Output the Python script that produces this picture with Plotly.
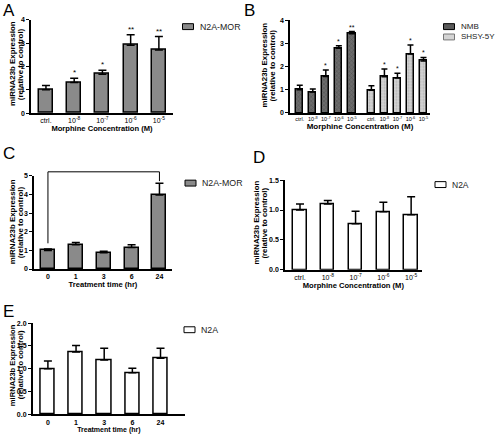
import plotly.graph_objects as go

F = "Liberation Sans, Arial, sans-serif"

# ---------------- data ----------------
conc_labels = ["ctrl.", "10<sup>-8</sup>", "10<sup>-7</sup>", "10<sup>-6</sup>", "10<sup>-5</sup>"]
time_labels = ["0", "1", "3", "6", "24"]

A_vals = [1.0, 1.31, 1.67, 2.91, 2.71]
A_err = [0.19, 0.19, 0.17, 0.45, 0.57]
A_sig = ["", "*", "*", "**", "**"]

B_nmb_vals = [1.0, 0.9, 1.58, 2.8, 3.42]
B_nmb_err = [0.2, 0.14, 0.28, 0.1, 0.1]
B_nmb_sig = ["", "", "*", "*", "**"]
B_shsy_vals = [0.98, 1.57, 1.51, 2.55, 2.25]
B_shsy_err = [0.2, 0.33, 0.21, 0.39, 0.15]
B_shsy_sig = ["", "*", "*", "*", "*"]

C_vals = [1.0, 1.3, 0.88, 1.16, 3.98]
C_err = [0.07, 0.13, 0.07, 0.14, 0.62]
C_bracket = {"from": 0, "to": 4, "height": 5.22, "left_foot": 1.38, "right_foot": 4.72, "label": "**"}

D_vals = [1.0, 1.1, 0.77, 0.97, 0.92]
D_err = [0.1, 0.06, 0.21, 0.16, 0.3]

E_vals = [1.0, 1.37, 1.19, 0.91, 1.23]
E_err = [0.17, 0.14, 0.26, 0.1, 0.22]

Y_TITLE_LINES = ["miRNA23b Expression", "(relative to control)"]

W, H = 496, 440


def px_x(p):
    return p / W


def px_y(p):
    return 1 - p / H


fig = go.Figure()


def add_bars(xs, vals, err, name, axis_n, fill, width, capw=4, pattern=None, sig=None, sigsize=8):
    xa = "x" if axis_n == 1 else f"x{axis_n}"
    ya = "y" if axis_n == 1 else f"y{axis_n}"
    marker = dict(color=fill, line=dict(color="black", width=1.5))
    if pattern:
        marker["pattern"] = pattern
    fig.add_trace(go.Bar(
        x=xs, y=vals, name=name, width=width, xaxis=xa, yaxis=ya, marker=marker,
        showlegend=False,
        error_y=dict(type="data", array=err, arrayminus=[0] * len(err), symmetric=False,
                     color="black", thickness=1.5, width=capw),
    ))
    if sig:
        for x, v, e, s in zip(xs, vals, err, sig):
            if s:
                fig.add_annotation(x=x, y=v + e, xref=xa, yref=ya, text=s, showarrow=False,
                                   yanchor="bottom", yshift=-1,
                                   font=dict(size=sigsize, family=F, color="black"))


idx = list(range(len(conc_labels)))
tidx = list(range(len(time_labels)))
B_gap = 1.5
idx_shsy = [i + len(idx) - 1 + B_gap for i in idx]

GREY = "#8a8a8a"
NMB_PAT = dict(shape="x", fgcolor="#3c3c3c", bgcolor="#6c6c6c", size=3, solidity=0.35)
SHSY_PAT = dict(shape=".", fgcolor="#9c9c9c", bgcolor="#d2d2d2", size=3, solidity=0.35)

add_bars(idx, A_vals, A_err, "N2A-MOR", 1, GREY, 0.5, sig=A_sig)
add_bars(idx, B_nmb_vals, B_nmb_err, "NMB", 2, "#6c6c6c", 0.56, capw=3, pattern=NMB_PAT,
         sig=B_nmb_sig, sigsize=7)
add_bars(idx_shsy, B_shsy_vals, B_shsy_err, "SHSY-5Y", 2, "#d2d2d2", 0.56, capw=3, pattern=SHSY_PAT,
         sig=B_shsy_sig, sigsize=7)
add_bars(tidx, C_vals, C_err, "N2A-MOR", 3, GREY, 0.5)
add_bars(idx, D_vals, D_err, "N2A", 4, "white", 0.48)
add_bars(tidx, E_vals, E_err, "N2A", 5, "white", 0.5)

# bracket in C (y in domain units so it may rise above the axis top)
C_YMAX = 5
for x0, x1, y0, y1 in [
    (C_bracket["from"], C_bracket["to"], C_bracket["height"], C_bracket["height"]),
    (C_bracket["from"], C_bracket["from"], C_bracket["left_foot"], C_bracket["height"]),
    (C_bracket["to"], C_bracket["to"], C_bracket["right_foot"], C_bracket["height"]),
]:
    fig.add_shape(type="line", xref="x3", yref="y3 domain", x0=x0, x1=x1,
                  y0=y0 / C_YMAX, y1=y1 / C_YMAX, line=dict(color="black", width=1))
fig.add_annotation(x=(C_bracket["from"] + C_bracket["to"]) / 2, y=C_bracket["height"], xref="x3", yref="y3",
                   text=C_bracket["label"], showarrow=False, yanchor="bottom", yshift=1,
                   font=dict(size=8, family=F, color="black"))


def yaxis(dom_y, rng, dtick, anchor, fmt="", tsize=7):
    return dict(domain=dom_y, range=rng, anchor=anchor, showline=True, linecolor="black", linewidth=1.5,
                ticks="outside", ticklen=3, tickwidth=1.2, tickcolor="black", showgrid=False, zeroline=False,
                dtick=dtick, tick0=0, tickformat=fmt,
                tickfont=dict(size=tsize, family=F, color="black", weight="bold"))


def xaxis(dom, rng, vals, text, anchor, title, tsize=7, tweight="normal", tsz=7.6):
    return dict(domain=dom, range=rng, anchor=anchor, showline=True, linecolor="black", linewidth=1.5,
                ticks="", showgrid=False, zeroline=False, tickvals=vals, ticktext=text,
                tickfont=dict(size=tsize, family=F, color="black", weight=tweight),
                title=dict(text=f"<b>{title}</b>", font=dict(size=tsz, family=F, color="black"), standoff=2))


fig.update_layout(
    xaxis=xaxis([px_x(31), px_x(173)], [-0.53, 4.5], idx, conc_labels, "y", "Morphine Concentration (M)"),
    yaxis=yaxis([px_y(111), px_y(16)], [0, 4], 1, "x"),
    xaxis2=xaxis([px_x(290), px_x(430)], [-0.75, 10], idx + idx_shsy, conc_labels + conc_labels, "y2",
                 "Morphine Concentration (M)", tsize=5.5, tsz=8),
    yaxis2=yaxis([px_y(110.7), px_y(16.7)], [0, 4], 1, "x2"),
    xaxis3=xaxis([px_x(34), px_x(172)], [-0.5, 4.45], tidx, time_labels, "y3", "Treatment time (hr)",
                 tweight="bold"),
    yaxis3=yaxis([px_y(269.3), px_y(174.7)], [0, C_YMAX], 1, "x3"),
    xaxis4=xaxis([px_x(285), px_x(421.7)], [-0.54, 4.38], idx, conc_labels, "y4", "Morphine Concentration (M)"),
    yaxis4=yaxis([px_y(270), px_y(179)], [0, 1.5], 0.5, "x4", fmt=".1f"),
    xaxis5=xaxis([px_x(32.7), px_x(185)], [-0.54, 4.87], tidx, time_labels, "y5", "Treatment time (hr)",
                 tweight="bold", tsz=7),
    yaxis5=yaxis([px_y(417), px_y(324.3)], [0, 2], 0.5, "x5", fmt=".1f"),
)

# y-axis titles (two tight rotated lines per panel)
for x1c, x2c, yc, fs in [(12, 20.2, 61, 7.9), (265, 273, 62.5, 7.9), (12, 20.2, 221.7, 7.9),
                         (256.5, 264.6, 222.5, 7.8), (12, 20.2, 367, 7.6)]:
    for line, xc in zip(Y_TITLE_LINES, (x1c, x2c)):
        fig.add_annotation(x=px_x(xc), y=px_y(yc), xref="paper", yref="paper", text=f"<b>{line}</b>",
                           textangle=-90, showarrow=False, xanchor="center", yanchor="middle",
                           font=dict(size=fs, family=F, color="black"))

# legends (swatch + label), positioned in paper pixels
legend_items = [
    ("N2A-MOR", 182.5, 23, GREY, "black", 8.8),
    ("NMB", 443.5, 23, "#5a5a5a", "black", 8),
    ("SHSY-5Y", 443.5, 33.5, "#d4d4d4", "#777777", 8),
    ("N2A-MOR", 185, 182, GREY, "black", 8.8),
    ("N2A", 435, 183.5, "white", "black", 8.5),
    ("N2A", 184, 331, "white", "black", 8.8),
]
SW, SH = 11, 6
for label, lx, ly, fill, edge, fs in legend_items:
    fig.add_shape(type="rect", xref="paper", yref="paper", x0=px_x(lx), x1=px_x(lx + SW),
                  y0=px_y(ly + SH / 2), y1=px_y(ly - SH / 2), fillcolor=fill, line=dict(color=edge, width=1))
    fig.add_annotation(x=px_x(lx + SW + 4), y=px_y(ly), xref="paper", yref="paper", text=label,
                       showarrow=False, xanchor="left", yanchor="middle",
                       font=dict(size=fs, family=F, color="#222222"))

for letter, cx, cy in [("A", 9, 7), ("B", 249, 7), ("C", 9, 152), ("D", 258.5, 156), ("E", 8.5, 312)]:
    fig.add_annotation(x=px_x(cx), y=px_y(cy), xref="paper", yref="paper", text=letter, showarrow=False,
                       xanchor="center", yanchor="middle", font=dict(size=17, family=F, color="black"))

fig.update_layout(width=W, height=H, margin=dict(l=0, r=0, t=0, b=0), paper_bgcolor="white",
                  plot_bgcolor="white", bargap=0, showlegend=False)

fig.write_html("out.html", config={"displayModeBar": False},
               post_script="document.body.style.margin='0';")
